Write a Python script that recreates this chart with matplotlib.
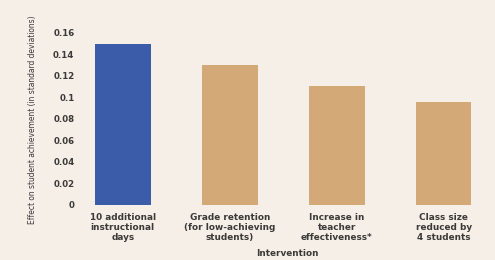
import matplotlib
matplotlib.use("Agg")
import matplotlib.pyplot as plt

# Effect of interventions on student achievement (standard deviations)
categories = [
    "10 additional\ninstructional\ndays",
    "Grade retention\n(for low-achieving\nstudents)",
    "Increase in\nteacher\neffectiveness*",
    "Class size\nreduced by\n4 students",
]
effects = [0.150, 0.130, 0.111, 0.0955]
bar_colors = ["#3b5ca8", "#d3a977", "#d3a977", "#d3a977"]
yticks = [0, 0.02, 0.04, 0.06, 0.08, 0.1, 0.12, 0.14, 0.16]
ytick_labels = ["0", "0.02", "0.04", "0.06", "0.08", "0.1", "0.12", "0.14", "0.16"]

BG = "#f6efe7"
TXT = "#3c3a38"

plt.rcParams["font.family"] = ["DejaVu Sans"]

fig = plt.figure(figsize=(4.95, 2.6), dpi=100)
fig.patch.set_facecolor(BG)
ax = fig.add_axes([80 / 495, 55 / 260, 415 / 495, 183 / 260])
ax.set_facecolor(BG)

x = range(len(categories))
ax.bar(x, effects, width=0.52, color=bar_colors)

ax.set_xlim(-0.40, 3.48)
ax.set_ylim(0, 0.17)
ax.set_yticks(yticks)
ax.set_yticklabels(ytick_labels, fontsize=6.2, fontweight="bold", color=TXT)
ax.set_xticks(list(x))
ax.set_xticklabels(categories, fontsize=6.4, fontweight="bold", color=TXT,
                   linespacing=1.15)
ax.tick_params(axis="both", length=0)
ax.tick_params(axis="y", pad=4)
ax.tick_params(axis="x", pad=6)
for s in ax.spines.values():
    s.set_visible(False)

ax.set_xlabel("Intervention", fontsize=6.4, fontweight="bold", color=TXT,
              labelpad=5)
fig.text(33 / 495, 0.54, "Effect on student achievement (in standard deviations)",
         rotation=90, ha="center", va="center", fontsize=6.0, color=TXT,
         fontstretch="condensed")

fig.savefig("out.png", dpi=100, facecolor=BG)
